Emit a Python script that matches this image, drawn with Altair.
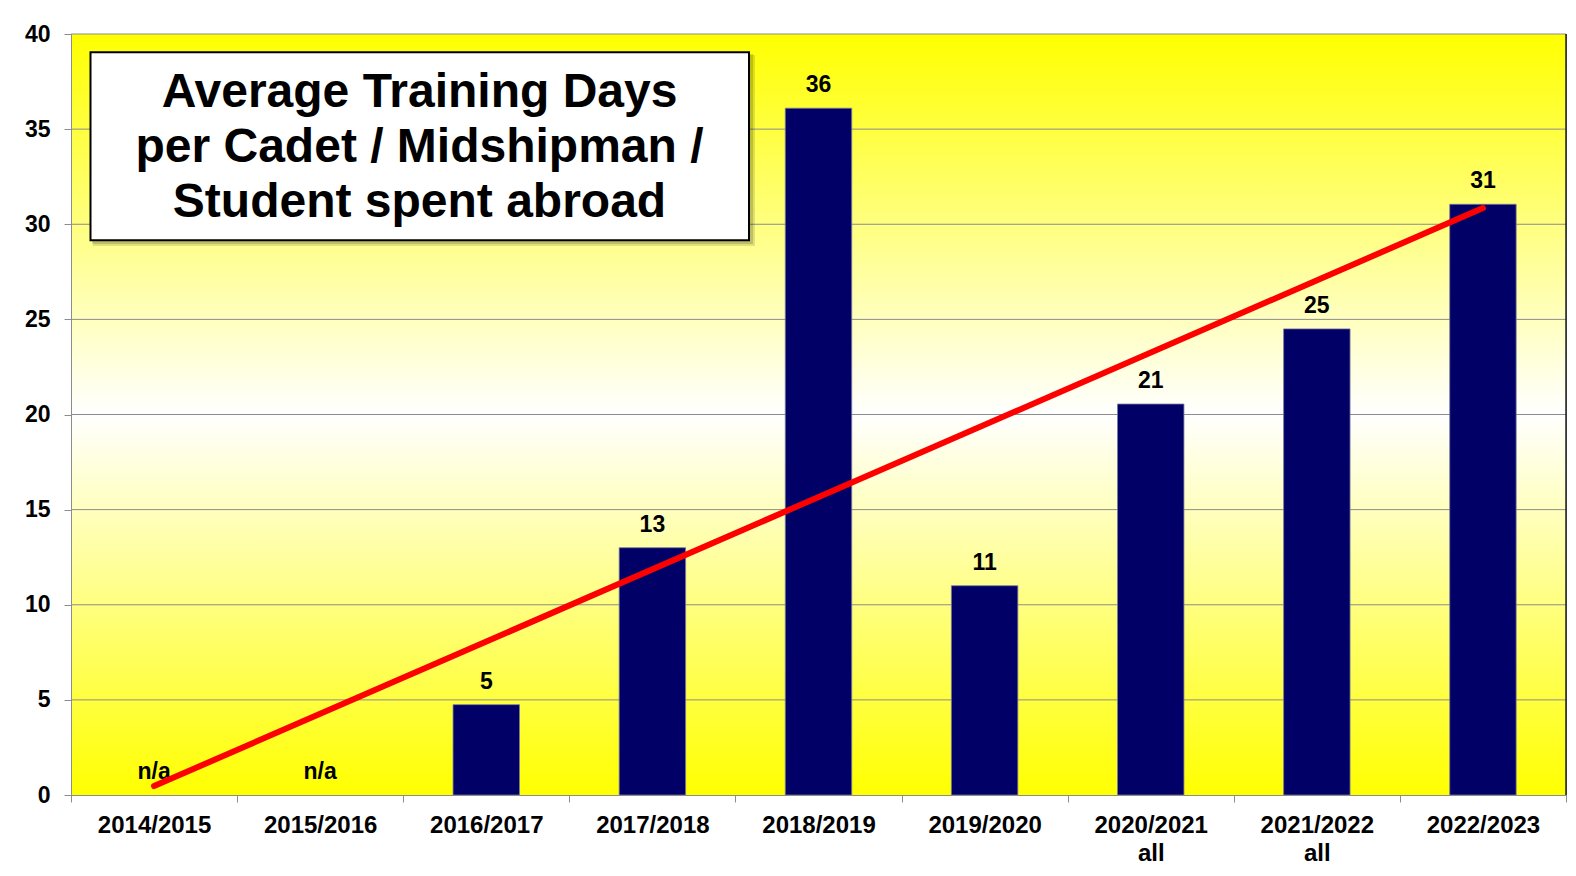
import altair as alt
import pandas as pd

# ---- data ----
categories = ["2014/2015", "2015/2016", "2016/2017", "2017/2018", "2018/2019",
              "2019/2020", "2020/2021\nall", "2021/2022\nall", "2022/2023"]
values = [None, None, 4.75, 13.0, 36.1, 11.0, 20.55, 24.5, 31.05]
value_labels = ["n/a", "n/a", "5", "13", "36", "11", "21", "25", "31"]
trend_categories = ["2014/2015", "2022/2023"]
trend_values = [0.47, 30.85]
y_ticks = [0, 5, 10, 15, 20, 25, 30, 35, 40]
grid_values = [5, 10, 15, 20, 25, 30, 35, 40]
title_text = "Average Training Days\nper Cadet / Midshipman /\nStudent spent abroad"

W, H = 1495, 761
FONT = "Liberation Sans"

df = pd.DataFrame({"cat": categories, "value": values, "label": value_labels})
df["label_y"] = df["value"].fillna(0)
trend_df = pd.DataFrame({"cat": trend_categories, "value": trend_values})
grid_df = pd.DataFrame({"g": grid_values})
one = pd.DataFrame({"a": [0]})

x_scale = alt.Scale(domain=categories, paddingInner=0, paddingOuter=0)
x_axis = alt.Axis(title=None, labelAngle=0, labelExpr="split(datum.label, '\\n')",
                  labelFont=FONT, labelFontSize=24, labelFontWeight="bold",
                  labelColor="black", labelPadding=11, labelLineHeight=28,
                  tickBand="extent", tickSize=7, tickColor="#8c8c8c",
                  domainColor="#8c8c8c", zindex=1)
y_scale = alt.Scale(domain=[0, 40], nice=False, zero=True)
y_axis = alt.Axis(title=None, values=y_ticks, grid=False, labelFont=FONT,
                  labelFontSize=23, labelFontWeight="bold", labelColor="black",
                  labelPadding=14, tickSize=7, tickColor="#8c8c8c",
                  domainColor="#8c8c8c", zindex=1)


def X(field):
    return alt.X(field, type="nominal", scale=x_scale, axis=x_axis)


def Y(field):
    return alt.Y(field, type="quantitative", scale=y_scale, axis=y_axis)


gradient = alt.Gradient(
    gradient="linear",
    stops=[alt.GradientStop(color="#ffff00", offset=0),
           alt.GradientStop(color="#ffffff", offset=0.5),
           alt.GradientStop(color="#ffff00", offset=1)],
    x1=0, x2=0, y1=0, y2=1)

bg = alt.Chart(one).mark_rect(color=gradient).encode(
    x=alt.value(0), x2=alt.value(W), y=alt.value(0), y2=alt.value(H))

grid = alt.Chart(grid_df).mark_rule(color="#8c8c8c", strokeWidth=1).encode(
    y=Y("g"))

bars = alt.Chart(df).mark_bar(color="#000066", stroke="#7a7aa0", strokeWidth=0.8,
                              width={"band": 0.4}).encode(
    x=X("cat"), y=Y("value"))

labels = alt.Chart(df).mark_text(font=FONT, fontSize=23, fontWeight="bold",
                                 color="black", baseline="alphabetic", dy=-16).encode(
    x=X("cat"), y=Y("label_y"), text="label:N")

trend = alt.Chart(trend_df).mark_line(color="#ff0000", strokeWidth=6,
                                      strokeCap="round").encode(
    x=X("cat"), y=Y("value"))

right_border = alt.Chart(one).mark_rule(color="#202020", strokeWidth=1.5).encode(
    x=alt.value(W), y=alt.value(0), y2=alt.value(H))

shadow1 = alt.Chart(one).mark_rect(color="#000000", opacity=0.12).encode(
    x=alt.value(22), x2=alt.value(684), y=alt.value(21), y2=alt.value(212))
shadow2 = alt.Chart(one).mark_rect(color="#000000", opacity=0.15).encode(
    x=alt.value(21), x2=alt.value(682), y=alt.value(20), y2=alt.value(210))
box = alt.Chart(one).mark_rect(color="white", stroke="black", strokeWidth=2).encode(
    x=alt.value(19.5), x2=alt.value(678), y=alt.value(18.3), y2=alt.value(206.2))
title = alt.Chart(one).mark_text(text=title_text, lineBreak="\n", font=FONT,
                                 fontSize=48, fontWeight="bold", color="black",
                                 align="center", baseline="middle", lineHeight=55).encode(
    x=alt.value(348.5), y=alt.value(58.5))

chart = alt.layer(bg, grid, bars, labels, trend, right_border,
                  shadow1, shadow2, box, title).properties(
    width=W, height=H,
    padding={"left": 63, "top": 26, "right": 2, "bottom": 76},
    autosize=alt.AutoSizeParams(type="none"),
    background="white",
).configure_view(stroke="#808080", strokeWidth=1)

chart.save("out.html", embed_options={"renderer": "svg", "actions": False})
